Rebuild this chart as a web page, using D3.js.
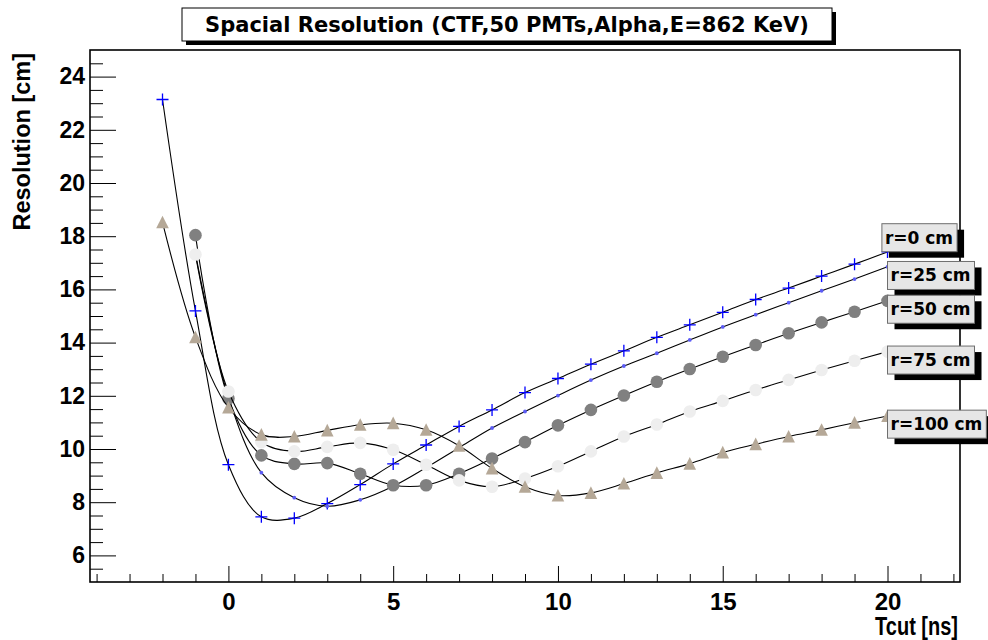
<!DOCTYPE html>
<html>
<head>
<meta charset="utf-8">
<script src="https://cdn.jsdelivr.net/npm/d3@7"></script>
<style>
  body { margin: 0; background: #fff; }
</style>
</head>
<body>
<div id="chart"></div>
<script>
// values (Tcut in ns, resolution in cm)
var tcutFromM2 = [-2, -1, 0, 1, 2, 3, 4, 5, 6, 7, 8, 9, 10, 11, 12, 13, 14, 15, 16, 17, 18, 19, 20];
var tcutFromM1 = [-1, 0, 1, 2, 3, 4, 5, 6, 7, 8, 9, 10, 11, 12, 13, 14, 15, 16, 17, 18, 19, 20];

var res_r0   = [23.14, 15.19, 9.41, 7.45, 7.40, 7.95, 8.66, 9.44, 10.15, 10.85, 11.47, 12.12,
                12.65, 13.19, 13.69, 14.20, 14.67, 15.14, 15.62, 16.05, 16.50, 16.95, 17.41];
var res_r25  = [17.35, 11.95, 9.11, 8.17, 7.85, 8.09, 8.60, 9.30, 10.05, 10.79, 11.41,
                12.01, 12.59, 13.12, 13.60, 14.10, 14.59, 15.05, 15.50, 15.95, 16.39, 16.85];
var res_r50  = [18.04, 11.90, 9.76, 9.44, 9.47, 9.07, 8.64, 8.64, 9.07, 9.64, 10.26,
                10.89, 11.47, 12.01, 12.53, 13.01, 13.47, 13.91, 14.35, 14.76, 15.16, 15.57];
var res_r75  = [17.31, 12.16, 10.26, 9.91, 10.08, 10.23, 9.97, 9.41, 8.82, 8.58, 8.89,
                9.35, 9.91, 10.47, 10.92, 11.41, 11.81, 12.22, 12.60, 12.97, 13.32, 13.66];
var res_r100 = [18.52, 14.20, 11.56, 10.54, 10.47, 10.70, 10.91, 10.97, 10.72, 10.12, 9.27, 8.58,
                8.25, 8.35, 8.70, 9.10, 9.45, 9.87, 10.18, 10.47, 10.72, 10.99, 11.24];

var labels = ["r=0 cm", "r=25 cm", "r=50 cm", "r=75 cm", "r=100 cm"];
// where the labels were put (data coords: left x, top y)
var labelLeft = [19.83, 20, 20, 20, 20];
var labelTop  = [18.47, 17.05, 15.78, 13.87, 11.46];

var xMajor = [0, 5, 10, 15, 20];
var xMinor = [-4, -3, -2, -1, 1, 2, 3, 4, 6, 7, 8, 9, 11, 12, 13, 14, 16, 17, 18, 19, 21, 22];
var yMajor = [6, 8, 10, 12, 14, 16, 18, 20, 22, 24];
var yMinor = [5.5, 6.5, 7, 7.5, 8.5, 9, 9.5, 10.5, 11, 11.5, 12.5, 13, 13.5, 14.5, 15, 15.5,
              16.5, 17, 17.5, 18.5, 19, 19.5, 20.5, 21, 21.5, 22.5, 23, 23.5, 24.5];

var titleText = "Spacial Resolution (CTF,50 PMTs,Alpha,E=862 KeV)";
var xTitle = "Tcut [ns]";
var yTitle = "Resolution [cm]";

// set the dimensions of the pad
var W = 988, H = 640;
var frame = {left: 90, right: 960, top: 50, bottom: 582};

var svg = d3.select("#chart")
  .append("svg")
    .attr("width", W)
    .attr("height", H)
    .style("display", "block");

var x = d3.scaleLinear().domain([-4.2, 22.2]).range([frame.left, frame.right]);
var y = d3.scaleLinear().domain([5, 25]).range([frame.bottom, frame.top]);

var axisFont = "'Liberation Sans', Arial, sans-serif";
var boxFont = "'DejaVu Sans', sans-serif";

// Y axis (ticks pointing inside, ROOT style)
svg.append("g")
  .attr("transform", "translate(" + frame.left + ",0)")
  .call(d3.axisLeft(y).tickValues(yMinor).tickSizeInner(-13).tickSizeOuter(0).tickFormat(""))
  .call(function(g) { g.select(".domain").remove(); });

svg.append("g")
  .attr("transform", "translate(" + frame.left + ",0)")
  .call(d3.axisLeft(y).tickValues(yMajor).tickSizeInner(-26).tickSizeOuter(0).tickPadding(5).tickFormat(d3.format("d")))
  .call(function(g) {
    g.select(".domain").remove();
    g.selectAll("text")
      .attr("font-family", axisFont)
      .attr("font-weight", "bold")
      .attr("font-size", 23)
      .attr("fill", "#000");
  });

// X axis
svg.append("g")
  .attr("transform", "translate(0," + frame.bottom + ")")
  .call(d3.axisBottom(x).tickValues(xMinor).tickSizeInner(-8).tickSizeOuter(0).tickFormat(""))
  .call(function(g) { g.select(".domain").remove(); });

svg.append("g")
  .attr("transform", "translate(0," + frame.bottom + ")")
  .call(d3.axisBottom(x).tickValues(xMajor).tickSizeInner(-16).tickSizeOuter(0).tickPadding(11).tickFormat(d3.format("d")))
  .call(function(g) {
    g.select(".domain").remove();
    g.selectAll("text")
      .attr("font-family", axisFont)
      .attr("font-weight", "bold")
      .attr("font-size", 24)
      .attr("fill", "#000");
  });

svg.selectAll(".tick line").attr("stroke", "#000").attr("stroke-width", 1);

// frame
svg.append("rect")
  .attr("x", frame.left)
  .attr("y", frame.top)
  .attr("width", frame.right - frame.left)
  .attr("height", frame.bottom - frame.top)
  .attr("fill", "none")
  .attr("stroke", "#000")
  .attr("stroke-width", 1.6);

// axis titles (the x title is drawn narrow, as in the original)
svg.append("text")
  .attr("transform", "translate(958,635) scale(0.8,1)")
  .attr("text-anchor", "end")
  .attr("font-family", axisFont)
  .attr("font-weight", "bold")
  .attr("font-size", 25)
  .text(xTitle);

svg.append("text")
  .attr("transform", "translate(30,53) rotate(-90)")
  .attr("text-anchor", "end")
  .attr("font-family", axisFont)
  .attr("font-weight", "bold")
  .attr("font-size", 23.5)
  .text(yTitle);

// the graphs
var series = [
  {tcut: tcutFromM2, res: res_r0,   marker: "plus",     color: "#0000ff"},
  {tcut: tcutFromM1, res: res_r25,  marker: "dot",      color: "#5c5cf5"},
  {tcut: tcutFromM1, res: res_r50,  marker: "circle",   color: "#808080"},
  {tcut: tcutFromM1, res: res_r75,  marker: "circle",   color: "#eeeeee"},
  {tcut: tcutFromM2, res: res_r100, marker: "triangle", color: "#b5a897"}
];

var line = d3.line()
  .x(function(d) { return x(d[0]); })
  .y(function(d) { return y(d[1]); })
  .curve(d3.curveCatmullRom.alpha(0.5));

var plot = svg.append("g");

series.forEach(function(s) {
  var pts = s.tcut.map(function(t, i) { return [t, s.res[i]]; });

  plot.append("path")
    .datum(pts)
    .attr("d", line)
    .attr("fill", "none")
    .attr("stroke", "#000")
    .attr("stroke-width", 1.1);

  var m = plot.append("g").selectAll("g")
    .data(pts)
    .enter()
    .append("g")
      .attr("transform", function(d) { return "translate(" + x(d[0]) + "," + y(d[1]) + ")"; });

  if (s.marker == "plus") {
    m.append("path").attr("d", "M-6,0H6M0,-6V6").attr("stroke", s.color).attr("stroke-width", 1.3);
  } else if (s.marker == "dot") {
    m.append("circle").attr("r", 1.9).attr("fill", s.color);
  } else if (s.marker == "circle") {
    m.append("circle").attr("r", 6.3).attr("fill", s.color);
  } else {
    m.append("path").attr("d", "M0,-6.6L6.3,6L-6.3,6Z").attr("fill", s.color);
  }
});

// labels at the curve ends
labels.forEach(function(txt, i) {
  var g = svg.append("g")
    .attr("transform", "translate(" + x(labelLeft[i]) + "," + y(labelTop[i]) + ")");
  var shadow = g.append("rect").attr("fill", "#000");
  var box = g.append("rect").attr("fill", "#e6e6e6").attr("stroke", "#6e6e6e").attr("stroke-width", 1);
  var t = g.append("text")
    .attr("x", 3)
    .attr("y", 20)
    .attr("font-family", boxFont)
    .attr("font-weight", "bold")
    .attr("font-size", 17)
    .text(txt);
  var w = t.node().getComputedTextLength() + 7;
  box.attr("width", w).attr("height", 28);
  shadow.attr("x", 7).attr("y", 6).attr("width", w).attr("height", 28);
});

// title box
var tb = {x: 182, y: 8, w: 650, h: 33};
svg.append("rect")
  .attr("x", tb.x + 4).attr("y", tb.y + 4)
  .attr("width", tb.w).attr("height", tb.h)
  .attr("fill", "#000");
svg.append("rect")
  .attr("x", tb.x).attr("y", tb.y)
  .attr("width", tb.w).attr("height", tb.h)
  .attr("fill", "#fff")
  .attr("stroke", "#000")
  .attr("stroke-width", 1);
svg.append("text")
  .attr("x", tb.x + tb.w / 2)
  .attr("y", tb.y + 24)
  .attr("text-anchor", "middle")
  .attr("font-family", boxFont)
  .attr("font-weight", "bold")
  .attr("font-size", 21)
  .text(titleText);
</script>
</body>
</html>
